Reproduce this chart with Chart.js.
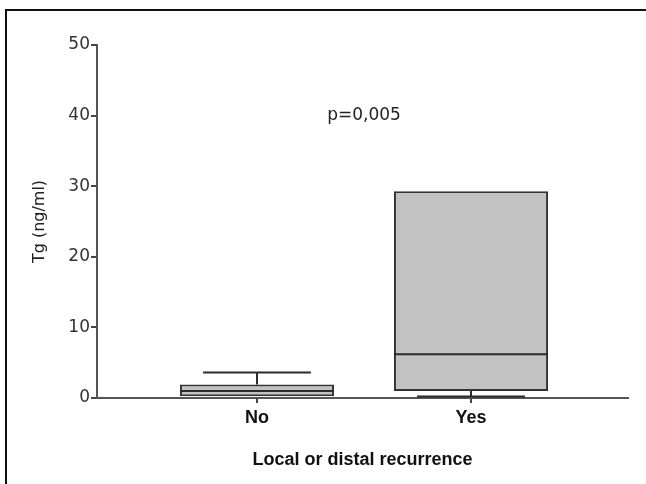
<!DOCTYPE html>
<html>
<head>
<meta charset="utf-8">
<script src="https://cdn.jsdelivr.net/npm/chart.js@4"></script>
<style>
  html, body { margin: 0; padding: 0; background: #fff; }
  #wrap { position: relative; width: 646px; height: 484px; }
  #frame { position: absolute; left: 5px; top: 9px; right: 0; bottom: 0;
           border-top: 2px solid #111; border-left: 2px solid #111; pointer-events: none; }
</style>
</head>
<body>
<div id="wrap">
  <canvas id="boxChart" width="646" height="484"></canvas>
  <div id="frame"></div>
</div>
<script>
// --- data ---
const groups = ['No', 'Yes'];
const q1 = [0.25, 1.0];
const medians = [1.0, 6.2];
const q3 = [1.9, 29.3];
const lows = [0.25, 0.2];
const highs = [3.6, 29.3];
const yMin = 0, yMax = 50, yStep = 10;
const pLabel = 'p=0,005';

const regular = 'DejaVu Sans';
const bold = 'Liberation Sans';

// whiskers, medians and p-value label
const boxExtras = {
  id: 'boxExtras',
  afterDatasetsDraw(chart) {
    const ctx = chart.ctx;
    const y = chart.scales.y;
    const x = chart.scales.x;
    const meta = chart.getDatasetMeta(0);
    ctx.save();
    ctx.strokeStyle = '#2b2b2b';
    ctx.lineWidth = 2;
    meta.data.forEach((bar, i) => {
      const half = bar.width / 2;
      const cap = bar.width * 0.35;
      // median
      const ym = y.getPixelForValue(medians[i]);
      ctx.beginPath();
      ctx.moveTo(bar.x - half, ym);
      ctx.lineTo(bar.x + half, ym);
      ctx.stroke();
      // upper whisker
      if (highs[i] > q3[i]) {
        const yh = y.getPixelForValue(highs[i]);
        ctx.beginPath();
        ctx.moveTo(bar.x, y.getPixelForValue(q3[i]));
        ctx.lineTo(bar.x, yh);
        ctx.moveTo(bar.x - cap, yh);
        ctx.lineTo(bar.x + cap, yh);
        ctx.stroke();
      }
      // lower whisker
      if (lows[i] < q1[i]) {
        const yl = y.getPixelForValue(lows[i]);
        ctx.beginPath();
        ctx.moveTo(bar.x, y.getPixelForValue(q1[i]));
        ctx.lineTo(bar.x, yl);
        ctx.moveTo(bar.x - cap, yl);
        ctx.lineTo(bar.x + cap, yl);
        ctx.stroke();
      }
    });
    ctx.fillStyle = '#222';
    ctx.font = '17px "' + regular + '"';
    ctx.textAlign = 'center';
    ctx.textBaseline = 'middle';
    ctx.fillText(pLabel, x.getPixelForValue(1.5), y.getPixelForValue(40));
    ctx.restore();
  }
};

const ctx = document.getElementById('boxChart').getContext('2d');
new Chart(ctx, {
  type: 'bar',
  data: {
    datasets: [{
      data: groups.map((g, i) => ({ x: i + 1, y: [q1[i], q3[i]] })),
      backgroundColor: '#c2c2c2',
      borderColor: '#333',
      borderWidth: 2,
      borderSkipped: false,
      categoryPercentage: 1,
      barPercentage: 0.72
    }]
  },
  options: {
    responsive: false,
    animation: false,
    layout: { padding: { top: 45, right: 18, left: 0, bottom: 0 } },
    plugins: { legend: { display: false }, tooltip: { enabled: false } },
    scales: {
      x: {
        type: 'linear',
        offset: false,
        min: 0.2523,
        max: 2.7336,
        afterBuildTicks: s => { s.ticks = groups.map((g, i) => ({ value: i + 1 })); },
        afterFit: s => { s.height = 86; },
        grid: { display: true, offset: false, drawOnChartArea: false, drawTicks: true, tickLength: 5, color: '#444', lineWidth: 2 },
        border: { display: true, color: '#555', width: 2 },
        ticks: {
          autoSkip: false,
          padding: 4,
          color: '#111',
          font: { family: bold, size: 18, weight: 'bold' },
          callback: v => groups[v - 1]
        },
        title: {
          display: true,
          text: 'Local or distal recurrence',
          color: '#111',
          font: { family: bold, size: 18, weight: 'bold' },
          padding: { top: 0, bottom: 13 }
        }
      },
      y: {
        min: yMin,
        max: yMax,
        afterFit: s => { s.width = 97; },
        grid: { display: true, drawOnChartArea: false, drawTicks: true, tickLength: 6, color: '#444', lineWidth: 2 },
        border: { display: true, color: '#555', width: 2 },
        ticks: {
          stepSize: yStep,
          padding: 1,
          color: '#333',
          font: { family: regular, size: 17 }
        },
        title: {
          display: true,
          text: 'Tg (ng/ml)',
          color: '#222',
          font: { family: regular, size: 16 },
          padding: { top: 30, bottom: 0 }
        }
      }
    }
  },
  plugins: [boxExtras]
});
</script>
</body>
</html>
